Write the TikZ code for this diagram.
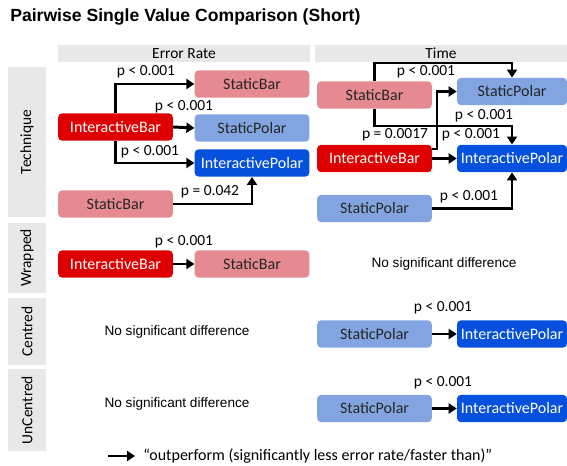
\documentclass[tikz,border=0pt]{standalone}
\usepackage{fontspec}
\setmainfont{Carlito}
\newfontfamily\arialfont{Liberation Sans}
\usetikzlibrary{arrows.meta}
\definecolor{barred}{RGB}{222,0,0}
\definecolor{barpink}{RGB}{230,138,145}
\definecolor{polarlight}{RGB}{130,165,225}
\definecolor{polarblue}{RGB}{5,80,220}
\definecolor{bandgray}{RGB}{232,232,232}

\begin{document}
\begin{tikzpicture}[x=0.75pt, y=-0.75pt,
    box/.style={rounded corners=3pt, minimum width=86pt, minimum height=20.5pt, inner sep=0pt, font=\fontsize{12}{14}\selectfont},
    ibar/.style={box, fill=barred, text=white},
    sbar/.style={box, fill=barpink, text=black!85},
    spol/.style={box, fill=polarlight, text=black!85},
    ipol/.style={box, fill=polarblue, text=white},
    narrow/.style={minimum width=82.5pt},
    plabel/.style={inner sep=0pt, font=\fontsize{11.6}{13}\selectfont},
    nosig/.style={inner sep=0pt, font=\arialfont\fontsize{10.2}{12}\selectfont},
    arr/.style={-{Triangle[length=6pt,width=7.5pt]}, line width=2.2pt}]

    % Canvas
    \fill[white] (0,0) rectangle (567,466);
    \useasboundingbox (0,0) rectangle (567,466);

    % Title
    \node[anchor=west, inner sep=0pt, font=\arialfont\bfseries\fontsize{13.2}{15}\selectfont] (title) at (10,17) {Pairwise Single Value Comparison (Short)};

    % Column headers
    \fill[bandgray] (58,45) rectangle (310,62);
    \fill[bandgray] (315,45) rectangle (567,62);
    \node[plabel] (hder) at (184,53.5) {Error Rate};
    \node[plabel] (htime) at (441,53.5) {Time};

    % Row headers
    \fill[bandgray] (8,67) rectangle (46,217);
    \fill[bandgray] (8,223) rectangle (46,293);
    \fill[bandgray] (8,298) rectangle (46,365);
    \fill[bandgray] (8,369) rectangle (46,451);
    \node[plabel, rotate=90] (rtech) at (27,142) {Technique};
    \node[plabel, rotate=90] (rwrap) at (27,258) {Wrapped};
    \node[plabel, rotate=90] (rcent) at (27,331.5) {Centred};
    \node[plabel, rotate=90] (runcent) at (27,410) {UnCentred};

    % Technique, error rate
    \node[sbar] (erSB) at (252,84) {StaticBar};
    \node[ibar] (erIB) at (115.5,127) {InteractiveBar};
    \node[spol] (erSP) at (252,128) {StaticPolar};
    \node[ipol] (erIP) at (252,163) {InteractivePolar};
    \node[sbar] (erSBb) at (115.5,204) {StaticBar};
    \draw[arr] (erIB.north) |- (erSB.west);
    \draw[arr] (erIB.east) -- (erSP.west);
    \draw[arr] (erIB.south) |- (erIP.west);
    \draw[arr] (erSBb.east) -| (erIP.south);
    \node[plabel] (erp1) at (146,72) {p < 0.001};
    \node[plabel] (erp2) at (184,107) {p < 0.001};
    \node[plabel] (erp3) at (150,152) {p < 0.001};
    \node[plabel] (erp4) at (210,192) {p = 0.042};

    % Technique, time
    \node[sbar] (tSB) at (374.5,95) {StaticBar};
    \node[spol, narrow] (tSP) at (512,91.5) {StaticPolar};
    \node[ibar] (tIB) at (374.5,158.5) {InteractiveBar};
    \node[ipol, narrow] (tIP) at (512,158.5) {InteractivePolar};
    \node[spol] (tSPb) at (374.5,208.5) {StaticPolar};
    \draw[arr] (tSB.north) -- (tSB.north |- 0,63) -| (tSP.north);
    \draw[arr] (tSB.south) -- (tSB.south |- 0,126) -| (tIP.north);
    \draw[arr] (tIB.east |- 0,149) -- (437,149) |- (tSP.west);
    \draw[arr] (tIB.east) -- (tIP.west);
    \draw[arr] (tSPb.east) -| (tIP.south);
    \node[plabel] (tp1) at (426,72) {p < 0.001};
    \node[plabel] (tp2) at (484,116) {p < 0.001};
    \node[plabel] (tp3) at (395,135) {p = 0.0017};
    \node[plabel] (tp4) at (471,135) {p < 0.001};
    \node[plabel] (tp5) at (469,197) {p < 0.001};

    % Wrapped
    \node[ibar] (wIB) at (115.5,264) {InteractiveBar};
    \node[sbar] (wSB) at (252,264) {StaticBar};
    \draw[arr] (wIB.east) -- (wSB.west);
    \node[plabel] (wp1) at (184,242) {p < 0.001};
    \node[nosig] (wnone) at (444,264) {No significant difference};

    % Centred
    \node[nosig] (cnone) at (177,332) {No significant difference};
    \node[spol] (cSP) at (374.5,334) {StaticPolar};
    \node[ipol, narrow] (cIP) at (512,334) {InteractivePolar};
    \draw[arr] (cSP.east) -- (cIP.west);
    \node[plabel] (cp1) at (443,308) {p < 0.001};

    % UnCentred
    \node[nosig] (unone) at (177,404) {No significant difference};
    \node[spol] (uSP) at (374.5,408.5) {StaticPolar};
    \node[ipol, narrow] (uIP) at (512,408.5) {InteractivePolar};
    \draw[arr] (uSP.east) -- (uIP.west);
    \node[plabel] (up1) at (443,383) {p < 0.001};

    % Legend
    \coordinate (legstart) at (108,456);
    \node[anchor=west, inner xsep=6pt, inner ysep=0pt, font=\fontsize{12}{14}\selectfont] (legtxt) at (135,456) {“outperform (significantly less error rate/faster than)”};
    \draw[arr] (legstart) -- (legtxt.west);
\end{tikzpicture}
\end{document}
